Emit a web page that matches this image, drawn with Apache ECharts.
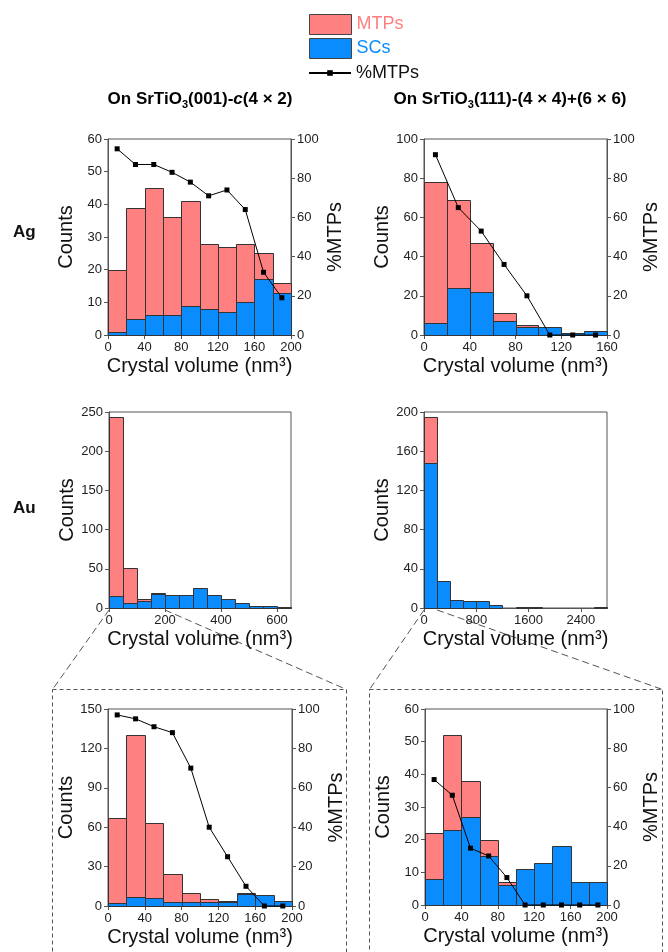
<!DOCTYPE html>
<html><head><meta charset="utf-8">
<script src="https://cdn.jsdelivr.net/npm/echarts@6/dist/echarts.min.js"></script>
<style>html,body{margin:0;padding:0;background:#fff}#c{width:668px;height:952px}</style>
</head><body><div id="c"></div>
<script>
// ---------- DATA ----------
// Ag on SrTiO3(001)-c(4x2)
const agA_binStart = [0,20,40,60,80,100,120,140,160,180];
const agA_binWidth = 20;
const agA_SCs  = [1,5,6,6,9,8,7,10,17,13];
const agA_MTPs = [19,34,39,30,32,20,20,18,8,3];
const agA_pct  = [95,87,87,83,78,71,74,64,32,19];
const agA_xTicks = [0,40,80,120,160,200];
const agA_yTicks = [0,10,20,30,40,50,60];

// Ag on SrTiO3(111)
const agB_binStart = [0,20,40,60,80,100,120,140];
const agB_binWidth = 20;
const agB_SCs  = [6,24,22,7,4,4,1,2];
const agB_MTPs = [72,45,25,4,1,0,0,0];
const agB_pct  = [92,65,53,36,20,0,0,0];
const agB_xTicks = [0,40,80,120,160];
const agB_yTicks = [0,20,40,60,80,100];

// Au on SrTiO3(001) full range
const auA_binStart = [0,50,100,150,200,250,300,350,400,450,500,550,600];
const auA_binWidth = 50;
const auA_SCs  = [15,6,9,18,16,17,25,16,11,6,2,2,1];
const auA_MTPs = [228,45,3,1,0,0,0,0,0,0,0,0,0];
const auA_xTicks = [0,200,400,600];
const auA_xMax = 650;
const auA_yTicks = [0,50,100,150,200,250];

// Au on SrTiO3(111) full range
const auB_binStart = [0,200,400,600,800,1000,1200,1400,1600,1800,2000,2200,2400,2600];
const auB_binWidth = 200;
const auB_SCs  = [148,28,8,7,7,3,0,1,1,0,0,0,0,1];
const auB_MTPs = [47,0,0,0,0,0,0,0,0,0,0,0,0,0];
const auB_xTicks = [0,800,1600,2400];
const auB_xMax = 2800;
const auB_yTicks = [0,40,80,120,160,200];

// Au on SrTiO3(001) 0-200 nm3
const auC_binStart = [0,20,40,60,80,100,120,140,160,180];
const auC_binWidth = 20;
const auC_SCs  = [2,7,6,3,3,3,3,9,8,4];
const auC_MTPs = [65,123,57,21,7,2,1,1,0,0];
const auC_pct  = [97,95,91,88,70,40,25,10,0,0];
const auC_xTicks = [0,40,80,120,160,200];
const auC_yTicks = [0,30,60,90,120,150];

// Au on SrTiO3(111) 0-200 nm3
const auD_binStart = [0,20,40,60,80,100,120,140,160,180];
const auD_binWidth = 20;
const auD_SCs  = [8,23,27,15,6,11,13,18,7,7];
const auD_MTPs = [14,29,11,5,1,0,0,0,0,0];
const auD_pct  = [64,56,29,25,14,0,0,0,0,0];
const auD_xTicks = [0,40,80,120,160,200];
const auD_yTicks = [0,10,20,30,40,50,60];

const pctTicks = [0,20,40,60,80,100];

// ---------- STYLE / LAYOUT ----------
const RED = '#FF8080', BLUE = '#0A8CFF', AXIS = '#555', EDGE = '#333';
const FONT = 'Liberation Sans, Arial, sans-serif';

const panels = [
  {grid:{left:108, top:139, width:183, height:196}, start:agA_binStart, w:agA_binWidth, sc:agA_SCs, mtp:agA_MTPs, pct:agA_pct, xt:agA_xTicks, xMax:200, yt:agA_yTicks},
  {grid:{left:424, top:139, width:183, height:196}, start:agB_binStart, w:agB_binWidth, sc:agB_SCs, mtp:agB_MTPs, pct:agB_pct, xt:agB_xTicks, xMax:160, yt:agB_yTicks},
  {grid:{left:109, top:412, width:182, height:196}, start:auA_binStart, w:auA_binWidth, sc:auA_SCs, mtp:auA_MTPs, pct:null, xt:auA_xTicks, xMax:auA_xMax, yt:auA_yTicks},
  {grid:{left:424, top:412, width:183, height:196}, start:auB_binStart, w:auB_binWidth, sc:auB_SCs, mtp:auB_MTPs, pct:null, xt:auB_xTicks, xMax:auB_xMax, yt:auB_yTicks},
  {grid:{left:108, top:709, width:184, height:197}, start:auC_binStart, w:auC_binWidth, sc:auC_SCs, mtp:auC_MTPs, pct:auC_pct, xt:auC_xTicks, xMax:200, yt:auC_yTicks},
  {grid:{left:425, top:709, width:182, height:196}, start:auD_binStart, w:auD_binWidth, sc:auD_SCs, mtp:auD_MTPs, pct:auD_pct, xt:auD_xTicks, xMax:200, yt:auD_yTicks}
];

function renderBar(params, api) {
  const y0 = api.value(2), y1 = api.value(3);
  if (y1 - y0 <= 0) return null;
  const p0 = api.coord([api.value(0), y0]);
  const p1 = api.coord([api.value(1), y1]);
  const x = Math.round(p0[0]) + 0.5, xr = Math.round(p1[0]) + 0.5;
  const yb = Math.round(p0[1]) + 0.5, yt = Math.round(p1[1]) + 0.5;
  return {type:'rect', shape:{x:x, y:yt, width:xr - x, height:yb - yt},
    style:{fill: api.visual('color'), stroke: EDGE, lineWidth: 1}};
}
const plain = v => String(v);

const grids = [], xAxes = [], yAxes = [], series = [];
panels.forEach((p, i) => {
  grids.push(Object.assign({show:true, borderColor:AXIS, borderWidth:1, backgroundColor:'transparent'}, p.grid));
  const xStep = p.xt[1] - p.xt[0];
  xAxes.push({type:'value', gridIndex:i, min:0, max:p.xMax, interval:xStep,
    axisLine:{show:true, onZero:false, lineStyle:{color:AXIS}},
    axisTick:{show:true, inside:false, length:4, lineStyle:{color:AXIS}, customValues:p.xt},
    axisLabel:{fontSize:13, color:'#222', margin:6, fontFamily:FONT, customValues:p.xt, formatter:plain},
    splitLine:{show:false},
    name:'Crystal volume (nm³)', nameLocation:'middle', nameGap:21,
    nameTextStyle:{fontSize:20, color:'#111', fontFamily:FONT}});
  const yStep = p.yt[1] - p.yt[0];
  const leftIdx = yAxes.length;
  yAxes.push({type:'value', gridIndex:i, position:'left', min:0, max:p.yt[p.yt.length-1], interval:yStep,
    axisLine:{show:true, onZero:false, lineStyle:{color:AXIS}},
    axisTick:{show:true, inside:false, length:4, lineStyle:{color:AXIS}},
    axisLabel:{fontSize:13, color:'#222', margin:6, fontFamily:FONT, formatter:plain},
    splitLine:{show:false},
    name:'Counts', nameLocation:'middle', nameRotate:90, nameGap:32,
    nameTextStyle:{fontSize:20, color:'#111', fontFamily:FONT}});
  let rightIdx = null;
  if (p.pct) {
    rightIdx = yAxes.length;
    yAxes.push({type:'value', gridIndex:i, position:'right', min:0, max:100, interval:pctTicks[1]-pctTicks[0],
      axisLine:{show:true, onZero:false, lineStyle:{color:AXIS}},
      axisTick:{show:true, inside:false, length:4, lineStyle:{color:AXIS}},
      axisLabel:{fontSize:13, color:'#222', margin:6, fontFamily:FONT, formatter:plain},
      splitLine:{show:false},
      name:'%MTPs', nameLocation:'middle', nameRotate:90, nameGap:34,
      nameTextStyle:{fontSize:20, color:'#111', fontFamily:FONT}});
  }
  const scData = p.start.map((s, k) => [s, s + p.w, 0, p.sc[k]]);
  const mtpData = p.start.map((s, k) => [s, s + p.w, p.sc[k], p.sc[k] + p.mtp[k]]);
  series.push({type:'custom', name:'SCs', xAxisIndex:i, yAxisIndex:leftIdx, renderItem:renderBar,
    itemStyle:{color:BLUE}, data:scData, silent:true, z:2,
    encode:{x:[0,1], y:[2,3]}});
  series.push({type:'custom', name:'MTPs', xAxisIndex:i, yAxisIndex:leftIdx, renderItem:renderBar,
    itemStyle:{color:RED}, data:mtpData, silent:true, z:2,
    encode:{x:[0,1], y:[2,3]}});
  if (p.pct) {
    series.push({type:'line', name:'%MTPs', xAxisIndex:i, yAxisIndex:rightIdx,
      data:p.start.map((s, k) => [s + p.w / 2, p.pct[k]]),
      symbol:'rect', symbolSize:5, itemStyle:{color:'#000'}, lineStyle:{color:'#000', width:1},
      z:5, silent:true, animation:false, clip:false});
  }
});

const chart = echarts.init(document.getElementById('c'), null, {renderer:'canvas'});
const richTitle = {
  b:{fontSize:17, fontWeight:'bold', lineHeight:22, color:'#111', fontFamily:FONT},
  i:{fontSize:17, fontWeight:'bold', fontStyle:'italic', lineHeight:22, color:'#111', fontFamily:FONT},
  s:{fontSize:11, fontWeight:'bold', lineHeight:11, verticalAlign:'bottom', color:'#111', fontFamily:FONT}
};
chart.setOption({
  animation:false,
  backgroundColor:'#fff',
  textStyle:{fontFamily:FONT},
  legend:[
    {orient:'vertical', left:304, top:9, itemWidth:42, itemHeight:20, itemGap:3, selectedMode:false,
      textStyle:{fontSize:18, fontFamily:FONT},
      data:[
        {name:'MTPs', icon:'rect', itemStyle:{color:RED, borderColor:'#444', borderWidth:1}, textStyle:{color:RED}},
        {name:'SCs', icon:'rect', itemStyle:{color:BLUE, borderColor:'#444', borderWidth:1}, textStyle:{color:BLUE}}
      ]},
    {orient:'vertical', left:303, top:59, itemWidth:42, itemHeight:7, selectedMode:false,
      textStyle:{fontSize:18, color:'#111', fontFamily:FONT},
      data:[{name:'%MTPs', textStyle:{color:'#111'}}]}
  ],
  grid:grids, xAxis:xAxes, yAxis:yAxes, series:series
});

// decorations: titles, row labels, zoom connectors and dashed boxes
const px = (axis, v) => chart.convertToPixel({xAxisIndex:axis}, v);
const g3 = panels[2].grid, g4 = panels[3].grid;
const yb3 = g3.top + g3.height + 2, yb4 = g4.top + g4.height + 2;
const boxTop = 689.5;
const dashC = {stroke:'#555', lineWidth:1, lineDash:[7,4]};
const dashB = {stroke:'#555', lineWidth:1, lineDash:[4,3]};
chart.setOption({graphic:[
  {type:'text', x:200, y:99, style:{text:'{b|On SrTiO}{s|3}{b|(001)-}{i|c}{b|(4 × 2)}', rich:richTitle, align:'center', verticalAlign:'middle'}},
  {type:'text', x:510, y:99, style:{text:'{b|On SrTiO}{s|3}{b|(111)-(4 × 4)+(6 × 6)}', rich:richTitle, align:'center', verticalAlign:'middle'}},
  {type:'text', x:13, y:232, style:{text:'Ag', font:'bold 17px ' + FONT, fill:'#111', align:'left', verticalAlign:'middle'}},
  {type:'text', x:13, y:508, style:{text:'Au', font:'bold 17px ' + FONT, fill:'#111', align:'left', verticalAlign:'middle'}},
  {type:'line', shape:{x1:px(2, 0), y1:yb3, x2:52.5, y2:boxTop}, style:dashC},
  {type:'line', shape:{x1:px(2, 200), y1:yb3, x2:346.5, y2:boxTop}, style:dashC},
  {type:'line', shape:{x1:px(3, 0), y1:yb4, x2:369.5, y2:boxTop}, style:dashC},
  {type:'line', shape:{x1:px(3, 200), y1:yb4, x2:662.5, y2:boxTop}, style:dashC},
  {type:'rect', shape:{x:52.5, y:boxTop, width:294, height:320}, style:Object.assign({fill:'none'}, dashB)},
  {type:'rect', shape:{x:369.5, y:boxTop, width:293, height:320}, style:Object.assign({fill:'none'}, dashB)}
]});
</script>
</body></html>
